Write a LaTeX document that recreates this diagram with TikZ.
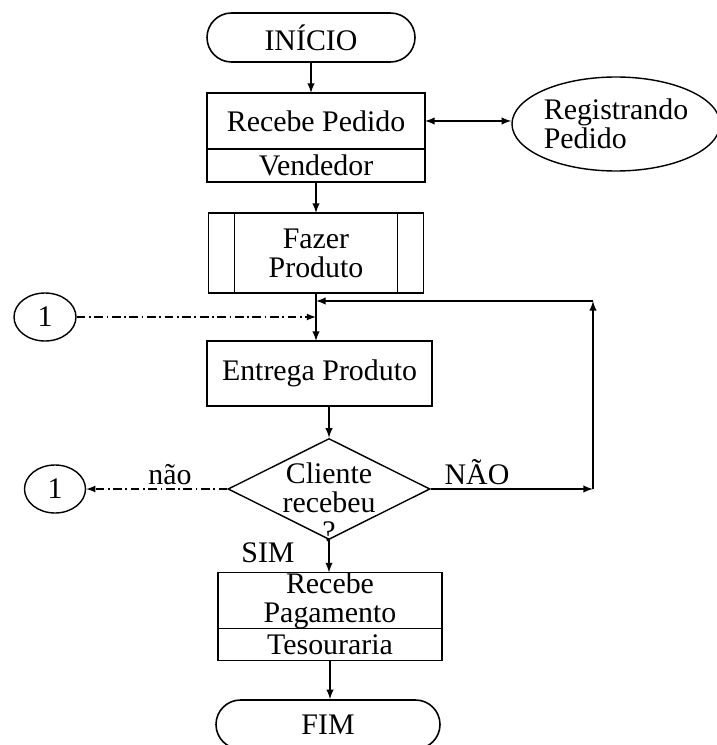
\documentclass[tikz,border=0pt]{standalone}
\usepackage{fontspec}
\setmainfont{Liberation Serif}
\usepackage{tikz}
\usetikzlibrary{shapes,arrows,positioning,calc}

\tikzset{
  caixa/.style={draw, rectangle, line width=0.9pt, inner sep=0pt, outer sep=0pt, align=center},
  terminal/.style={draw, rounded rectangle, line width=0.9pt, minimum height=0.98cm, inner sep=0pt},
  conector/.style={draw, ellipse, line width=0.8pt, minimum width=1.24cm, minimum height=0.96cm, inner sep=0pt},
  seta/.style={-latex, line width=0.9pt},
  tracejada/.style={-latex, dash pattern=on 5pt off 2pt on 1pt off 2pt, line width=0.8pt}
}

\begin{document}
\begin{tikzpicture}[font=\fontsize{17}{16.5}\selectfont]
  \useasboundingbox (0,0) rectangle (14.32,-14.9);
  \node[terminal, minimum width=4.16cm] (inicio) at (6.22,-0.75) {INÍCIO};
  \node[caixa, minimum width=4.36cm, minimum height=1.12cm] (pedido) at (6.32,-2.42) {Recebe Pedido};
  \node[caixa, minimum width=4.36cm, minimum height=0.66cm, below=0pt of pedido] (vendedor) {Vendedor};
  \node[draw, ellipse, line width=0.8pt, minimum width=4.16cm, minimum height=1.88cm, inner sep=0pt, align=left] (registro) at (12.32,-2.48) {Registrando\\Pedido};
  \node[caixa, minimum width=4.3cm, minimum height=1.6cm] (fazer) at (6.32,-5.06) {Fazer\\Produto};
  \draw[line width=0.9pt] ([xshift=0.52cm]fazer.north west) -- ([xshift=0.52cm]fazer.south west);
  \draw[line width=0.9pt] ([xshift=-0.52cm]fazer.north east) -- ([xshift=-0.52cm]fazer.south east);
  \node[caixa, minimum width=4.5cm, minimum height=1.3cm] (entrega) at (6.39,-7.47) {Entrega Produto};
  \node[draw, diamond, line width=0.8pt, minimum width=4.04cm, minimum height=2.02cm, inner sep=0pt] (decisao) at (6.58,-9.78) {};
  \node[align=center] (pergunta) at (6.58,-10.05) {Cliente\\recebeu\\?};
  \node[conector] (conectorA) at (0.9,-6.34) {1};
  \node[conector, minimum width=1.22cm] (conectorB) at (1.1,-9.78) {1};
  \node (rotnao) at (3.4,-9.5) {não};
  \node (rotNAO) at (9.54,-9.44) {NÃO};
  \node (rotsim) at (5.36,-11.06) {SIM};
  \node[caixa, minimum width=4.48cm, minimum height=1.1cm] (pagamento) at (6.6,-12.01) {Recebe\\Pagamento};
  \node[caixa, minimum width=4.48cm, minimum height=0.64cm, below=0pt of pagamento] (tesouraria) {Tesouraria};
  \node[terminal, minimum width=4.48cm] (fim) at (6.56,-14.49) {FIM};

  \coordinate (juncao) at (6.32,-6.02);
  \coordinate (chegada) at (6.32,-6.34);
  \coordinate (canto1) at (11.86,-9.78);
  \coordinate (canto2) at (11.86,-6.02);

  \draw[seta] (inicio.south) -- (inicio.south |- pedido.north);
  \draw[latex-latex, line width=0.9pt] (pedido.east) -- (pedido.east -| registro.west);
  \draw[seta] (vendedor.south) -- (fazer.north);
  \draw[seta] (fazer.south) -- (fazer.south |- entrega.north);
  \draw[tracejada] (conectorA.east) -- (chegada);
  \draw[seta] (entrega.south -| decisao.north) -- (decisao.north);
  \draw[tracejada] (decisao.west) -- (conectorB.east);
  \draw[seta] (decisao.east) -- (canto1);
  \draw[seta] (canto1) -- (canto2);
  \draw[seta] (canto2) -- (juncao);
  \draw[seta] (decisao.south) -- (decisao.south |- pagamento.north);
  \draw[seta] (tesouraria.south) -- (tesouraria.south |- fim.north);
\end{tikzpicture}
\end{document}
